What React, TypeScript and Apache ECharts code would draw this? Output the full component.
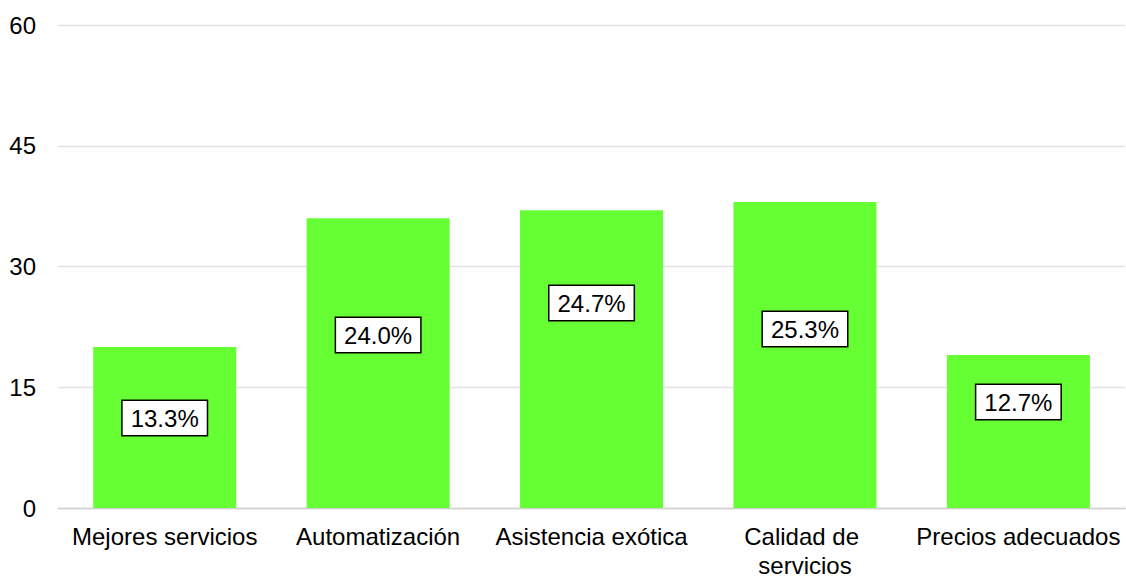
import React, { useEffect, useRef } from "react";
import * as echarts from "echarts";

const categories = [
  "Mejores servicios",
  "Automatización",
  "Asistencia exótica",
  "Calidad de servicios",
  "Precios adecuados",
];
const counts = [20, 36, 37, 38, 19];
const yTicks = { min: 0, max: 60, interval: 15 };

// vertical shift (px) of each data label box from the bar centre, as placed in the reference
const labelShiftY = [-9.5, -28, -56, -26, -29.5];

export default function App() {
  const ref = useRef<HTMLDivElement>(null);
  useEffect(() => {
    if (!ref.current) return;
    const chart = echarts.init(ref.current, null, { renderer: "svg" });
    const total = counts.reduce((a, b) => a + b, 0);
    const font = "Liberation Sans, Arial, sans-serif";
    chart.setOption({
      animation: false,
      grid: { left: 58, top: 25, width: 1071, height: 489, containLabel: false },
      xAxis: {
        type: "category",
        data: categories,
        axisLine: { show: true, lineStyle: { color: "#d0d0d0", width: 1.3 } },
        axisTick: { show: false },
        axisLabel: {
          interval: 0,
          margin: 14,
          color: "#000",
          fontFamily: font,
          fontSize: 24,
          lineHeight: 29,
          width: 210,
          overflow: "break",
          align: "center",
        },
      },
      yAxis: {
        type: "value",
        min: yTicks.min,
        max: yTicks.max,
        interval: yTicks.interval,
        axisLine: { show: false },
        axisTick: { show: false },
        splitLine: { lineStyle: { color: "#e2e2e2", width: 1.3 } },
        axisLabel: {
          margin: 22,
          color: "#000",
          fontFamily: font,
          fontSize: 24,
        },
      },
      series: [
        {
          type: "bar",
          barCategoryGap: "33%",
          data: counts.map((v, i) => ({
            value: v,
            label: { offset: [0, labelShiftY[i]] },
          })),
          itemStyle: { color: "#66ff33" },
          label: {
            show: true,
            position: "inside",
            formatter: (p: any) => ((p.value / total) * 100).toFixed(1) + "%",
            color: "#000",
            fontFamily: font,
            fontSize: 24,
            lineHeight: 27,
            backgroundColor: "#fff",
            borderColor: "#000",
            borderWidth: 1.5,
            padding: [4, 8, 3, 8],
          },
        },
      ],
    });
    return () => chart.dispose();
  }, []);
  return (
    <div
      ref={ref}
      style={{ position: "fixed", left: 0, top: 0, width: 1126, height: 580, background: "#fff" }}
    />
  );
}
